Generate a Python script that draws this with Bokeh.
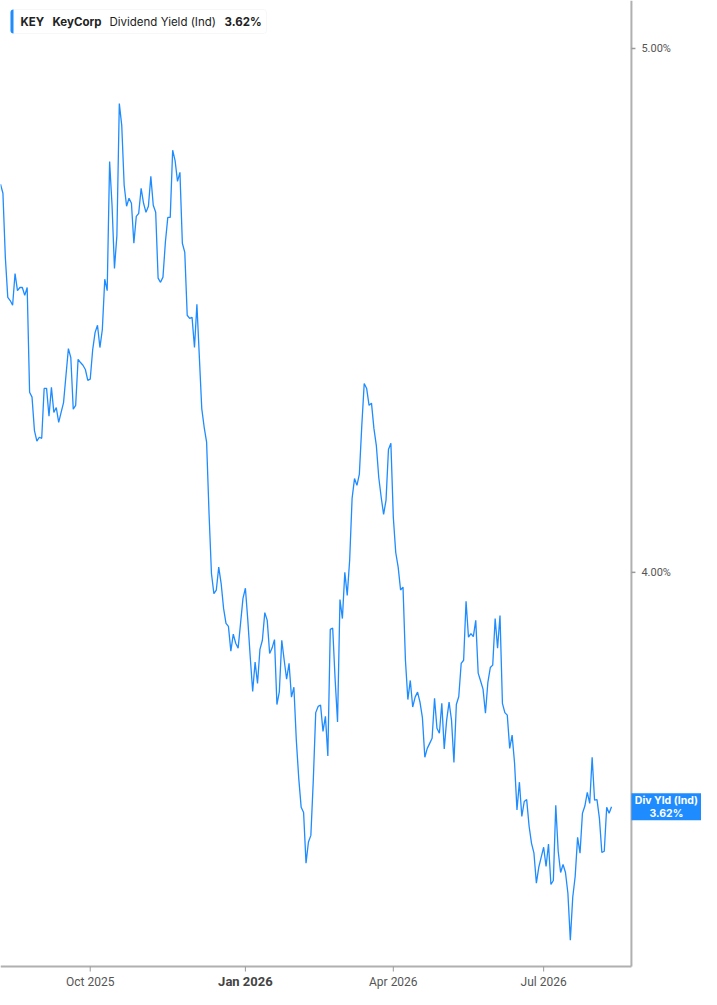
import numpy as np
import pandas as pd
from bokeh.plotting import figure
from bokeh.models import ColumnDataSource, Range1d, BoxAnnotation, Label
from bokeh.core.properties import value
from bokeh.embed import file_html
from bokeh.resources import INLINE

# ---------------- data ----------------
ticker_symbol = "KEY"
company_name = "KeyCorp"
metric_name = "Dividend Yield (Ind)"
metric_short = "Div Yld (Ind)"
start_date = "2025-08-08"
market_holidays = ["2025-09-01", "2025-11-27", "2025-12-25", "2026-01-01", "2026-01-19",
                   "2026-02-16", "2026-04-03", "2026-05-25", "2026-06-19", "2026-07-03"]

div_yield = [
    4.719, 4.701, 4.574, 4.497, 4.491, 4.482, 4.543, 4.510, 4.516, 4.516,
    4.501, 4.516, 4.319, 4.310, 4.249, 4.230, 4.237, 4.235, 4.326, 4.326,
    4.275, 4.328, 4.282, 4.291, 4.264, 4.282, 4.300, 4.350, 4.400, 4.383,
    4.288, 4.295, 4.380, 4.374, 4.369, 4.361, 4.341, 4.343, 4.397, 4.430,
    4.444, 4.402, 4.436, 4.532, 4.510, 4.765, 4.677, 4.553, 4.617, 4.884,
    4.839, 4.717, 4.675, 4.691, 4.681, 4.602, 4.655, 4.661, 4.711, 4.681,
    4.663, 4.675, 4.735, 4.677, 4.663, 4.534, 4.526, 4.536, 4.604, 4.653,
    4.653, 4.788, 4.767, 4.725, 4.743, 4.602, 4.584, 4.463, 4.457, 4.459,
    4.402, 4.484, 4.385, 4.289, 4.255, 4.228, 4.102, 3.998, 3.964, 3.970,
    4.009, 3.981, 3.939, 3.914, 3.909, 3.868, 3.896, 3.881, 3.873, 3.914,
    3.956, 3.973, 3.919, 3.858, 3.802, 3.850, 3.815, 3.871, 3.886, 3.932,
    3.919, 3.864, 3.873, 3.887, 3.781, 3.802, 3.886, 3.853, 3.822, 3.848,
    3.793, 3.809, 3.724, 3.664, 3.619, 3.611, 3.534, 3.566, 3.576, 3.661,
    3.768, 3.778, 3.780, 3.738, 3.762, 3.699, 3.904, 3.906, 3.822, 3.753,
    3.954, 3.922, 4.000, 3.961, 4.021, 4.128, 4.163, 4.151, 4.171, 4.258,
    4.335, 4.326, 4.295, 4.299, 4.253, 4.222, 4.165, 4.130, 4.100, 4.125,
    4.215, 4.226, 4.095, 4.034, 4.009, 3.970, 3.975, 3.853, 3.789, 3.820,
    3.777, 3.793, 3.801, 3.785, 3.760, 3.697, 3.711, 3.719, 3.727, 3.791,
    3.743, 3.735, 3.783, 3.710, 3.756, 3.785, 3.756, 3.689, 3.781, 3.794,
    3.848, 3.853, 3.951, 3.891, 3.897, 3.892, 3.919, 3.832, 3.819, 3.806,
    3.767, 3.817, 3.841, 3.845, 3.922, 3.873, 3.927, 3.783, 3.768, 3.764,
    3.711, 3.732, 3.688, 3.615, 3.658, 3.605, 3.628, 3.631, 3.590, 3.564,
    3.549, 3.504, 3.528, 3.543, 3.558, 3.529, 3.563, 3.502, 3.508, 3.622,
    3.552, 3.520, 3.532, 3.520, 3.489, 3.420, 3.483, 3.514, 3.573, 3.549,
    3.610, 3.621, 3.642, 3.625, 3.697, 3.630, 3.631, 3.602, 3.550, 3.552,
    3.619, 3.610, 3.620,
]

x_tick_labels = ["Oct 2025", "Jan 2026", "Apr 2026", "Jul 2026"]
bold_tick_label = "Jan 2026"
y_ticks = [4.0, 5.0]
y_tick_labels = ["4.00%", "5.00%"]

# ---------------- geometry (canvas == frame) ----------------
W, H = 701, 989
X_END = 289.1        # index at right canvas edge
AXIS_X = 260.2       # index where the value axis sits
Y_TOP = 5.1033       # value at top canvas edge
Y_BOT = 3.3488       # value at bottom canvas edge
Y_AXIS = 3.3817      # value where the time axis sits

LT, LB = np.log10(Y_TOP), np.log10(Y_BOT)


def y_px(py):
    """value located py pixels below the canvas top (log scale)"""
    return 10 ** (LT - py / H * (LT - LB))


def dx(px):
    return px * X_END / W


def py_of(v):
    return (LT - np.log10(v)) / (LT - LB) * H


# ---------------- derived ----------------
dates = pd.bdate_range(start=start_date, periods=len(div_yield), freq="C",
                       holidays=market_holidays)
idx = np.arange(len(div_yield))
src = ColumnDataSource(dict(x=idx, y=div_yield, date=dates))

tick_idx, tick_lab = [], []
for i, d in enumerate(dates):
    lab = d.strftime("%b %Y")
    if lab in x_tick_labels and lab not in tick_lab:
        tick_idx.append(i)
        tick_lab.append(lab)

BLUE = "#1e8cff"
AXIS_C = "#b0b0b0"
TICK_C = "#9a9a9a"

p = figure(width=W, height=H, x_range=Range1d(0, X_END), y_range=Range1d(Y_BOT, Y_TOP),
           y_axis_type="log", x_axis_location=None, y_axis_location=None,
           min_border=0, output_backend="svg", toolbar_location=None,
           outline_line_color=None, background_fill_color="white",
           border_fill_color="white")
p.grid.visible = False

# data line
p.line("x", "y", source=src, line_color=BLUE, line_width=1.3)

# value axis (right)
p.segment(x0=[AXIS_X], x1=[AXIS_X], y0=[Y_AXIS], y1=[Y_TOP], line_color=AXIS_C, line_width=2)
p.segment(x0=[AXIS_X] * len(y_ticks), x1=[AXIS_X + dx(4)] * len(y_ticks), y0=y_ticks,
          y1=y_ticks, line_color=TICK_C, line_width=1.5)
p.text(x=[AXIS_X] * len(y_ticks), y=y_ticks, text=y_tick_labels, x_offset=10,
       text_align="left", text_baseline="middle", text_font=value("Roboto"),
       text_font_size="11px", text_color="#555555")

# time axis (bottom)
p.segment(x0=[0], x1=[AXIS_X], y0=[Y_AXIS], y1=[Y_AXIS], line_color=AXIS_C, line_width=2)
p.segment(x0=tick_idx, x1=tick_idx, y0=[Y_AXIS] * len(tick_idx),
          y1=[y_px(py_of(Y_AXIS) + 5)] * len(tick_idx), line_color=TICK_C, line_width=1)
norm_i = [i for i, l in zip(tick_idx, tick_lab) if l != bold_tick_label]
norm_l = [l for l in tick_lab if l != bold_tick_label]
bold_i = [i for i, l in zip(tick_idx, tick_lab) if l == bold_tick_label]
bold_l = [l for l in tick_lab if l == bold_tick_label]
p.text(x=norm_i, y=[Y_AXIS] * len(norm_i), text=norm_l, y_offset=15,
       text_align="center", text_baseline="middle", text_font=value("Roboto"),
       text_font_size="12px", text_color="#555555")
p.text(x=bold_i, y=[Y_AXIS] * len(bold_i), text=bold_l, y_offset=15,
       text_align="center", text_baseline="middle", text_font=value("Roboto"),
       text_font_size="13px", text_font_style="bold", text_color="#444444")

# last value tag
last = div_yield[-1]
p.rect(x=[(AXIS_X + X_END) / 2], y=[last], width=[X_END - AXIS_X], height=27,
       height_units="screen", fill_color=BLUE, line_color=None)
p.text(x=[(AXIS_X + X_END) / 2] * 2, y=[last, last], text=[metric_short, f"{last:.2f}%"],
       y_offset=[-6.5, 6.5], text_align="center", text_baseline="middle",
       text_font=value("Inter"), text_font_size="10.5px", text_font_style="bold",
       text_color="white")

# legend box at top-left (screen units, measured from bottom-left)
p.add_layout(BoxAnnotation(left=10, right=266, bottom=H - 33, top=H - 9,
                           left_units="screen", right_units="screen",
                           bottom_units="screen", top_units="screen",
                           fill_color="white", fill_alpha=1.0, line_color="#e4e4e4",
                           line_width=1, border_radius=3))
p.add_layout(BoxAnnotation(left=10, right=13, bottom=H - 33, top=H - 9,
                           left_units="screen", right_units="screen",
                           bottom_units="screen", top_units="screen",
                           fill_color=BLUE, fill_alpha=1.0, line_color=None,
                           border_radius=(3, 0, 0, 3)))
legend_parts = [(ticker_symbol, 20, "bold"), (company_name, 52, "bold"),
                (metric_name, 109, "normal"), (f"{last:.2f}%", 224, "bold")]
for txt, xx, style in legend_parts:
    p.add_layout(Label(x=xx, y=H - 21, x_units="screen", y_units="screen", text=txt,
                       text_baseline="middle", text_font="Inter", text_font_size="11.5px",
                       text_font_style=style, text_color="#222222"))

open("out.html", "w").write(file_html(p, INLINE))
